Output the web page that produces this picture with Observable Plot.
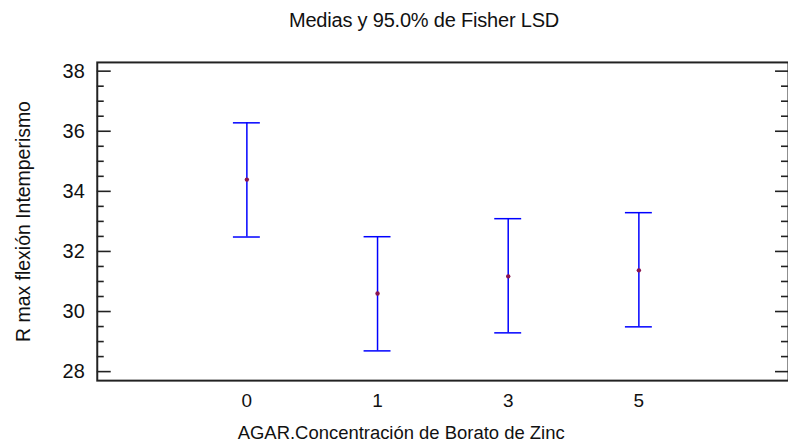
<!DOCTYPE html>
<html>
<head>
<meta charset="utf-8">
<script src="https://cdn.jsdelivr.net/npm/d3@7"></script>
<script src="https://cdn.jsdelivr.net/npm/@observablehq/plot@0.6"></script>
<style>
  html, body { margin: 0; padding: 0; background: #fff; overflow: hidden; width: 788px; height: 445px; }
  #title { height: 40px; line-height: 40px; width: 788px; box-sizing: border-box; padding-left: 60px;
           text-align: center; font-family: "Liberation Sans", Arial, sans-serif; font-size: 20px; color: #111;
           letter-spacing: -0.2px; }
  #chart svg { display: block; }
</style>
</head>
<body>
<div id="title">Medias y 95.0% de Fisher LSD</div>
<div id="chart"></div>
<script>
// Data
const groups = ["0", "1", "3", "5"];
const means  = [34.39, 30.60, 31.17, 31.37];
const lower  = [32.48, 28.69, 29.29, 29.49];
const upper  = [36.28, 32.49, 33.09, 33.29];
const majorTicks = [28, 30, 32, 34, 36, 38];
const minorTicks = [28.5, 29, 29.5, 30.5, 31, 31.5, 32.5, 33, 33.5, 34.5, 35, 35.5, 36.5, 37, 37.5];
const xLabel = "AGAR.Concentración de Borato de Zinc";
const yLabel = "R max flexión Intemperismo";

const rows = groups.map((g, i) => ({g, mean: means[i], lo: lower[i], hi: upper[i]}));

const W = 790, H = 405;
const mL = 97, mR = 0, mT = 22, mB = 64;
const fw = W - mL - mR;
const axisColor = "#222";

const chart = Plot.plot({
  width: W, height: H,
  marginLeft: mL, marginRight: mR, marginTop: mT, marginBottom: mB,
  style: {fontFamily: "Liberation Sans, Arial, sans-serif", color: "#111", background: "#fff"},
  x: {type: "point", domain: groups, padding: 1.145, axis: null},
  y: {domain: [27.7, 38.29], axis: null},
  marks: [
    // left ticks
    Plot.tickY(majorTicks, {y: d => d, insetRight: fw - 14, stroke: axisColor, strokeWidth: 1.6}),
    Plot.tickY(minorTicks, {y: d => d, insetRight: fw - 7, stroke: axisColor, strokeWidth: 1.6}),
    // right ticks
    Plot.tickY(majorTicks, {y: d => d, insetLeft: fw - 13, stroke: axisColor, strokeWidth: 1.6}),
    Plot.tickY(minorTicks, {y: d => d, insetLeft: fw - 7, stroke: axisColor, strokeWidth: 1.6}),
    Plot.frame({stroke: axisColor, strokeWidth: 2}),
    Plot.axisY({anchor: "left", ticks: majorTicks, tickSize: 0, tickPadding: 12.5, fontSize: 20, label: null, tickFormat: d => String(d)}),
    Plot.axisX({anchor: "bottom", tickSize: 0, tickPadding: 12.5, fontSize: 19, label: null}),
    // error bars
    Plot.ruleX(rows, {x: "g", y1: "lo", y2: "hi", stroke: "#0000ff", strokeWidth: 1.5}),
    Plot.ruleY(rows, {y: "hi", x1: "g", x2: "g", insetLeft: -13.5, insetRight: -13.5, stroke: "#0000ff", strokeWidth: 1.5}),
    Plot.ruleY(rows, {y: "lo", x1: "g", x2: "g", insetLeft: -13.5, insetRight: -13.5, stroke: "#0000ff", strokeWidth: 1.5}),
    Plot.dot(rows, {x: "g", y: "mean", r: 2.2, fill: "#8a1450", stroke: null}),
    // axis titles
    Plot.text([xLabel], {frameAnchor: "bottom", text: d => d, textAnchor: "middle", lineAnchor: "middle", dx: -41.8, dy: 53, fontSize: 18.5, fill: "#111"}),
    Plot.text([yLabel], {frameAnchor: "left", text: d => d, textAnchor: "middle", lineAnchor: "middle", rotate: -90, dx: -74, dy: 0, fontSize: 19.5, fill: "#111"})
  ]
});
document.getElementById("chart").appendChild(chart);
</script>
</body>
</html>
